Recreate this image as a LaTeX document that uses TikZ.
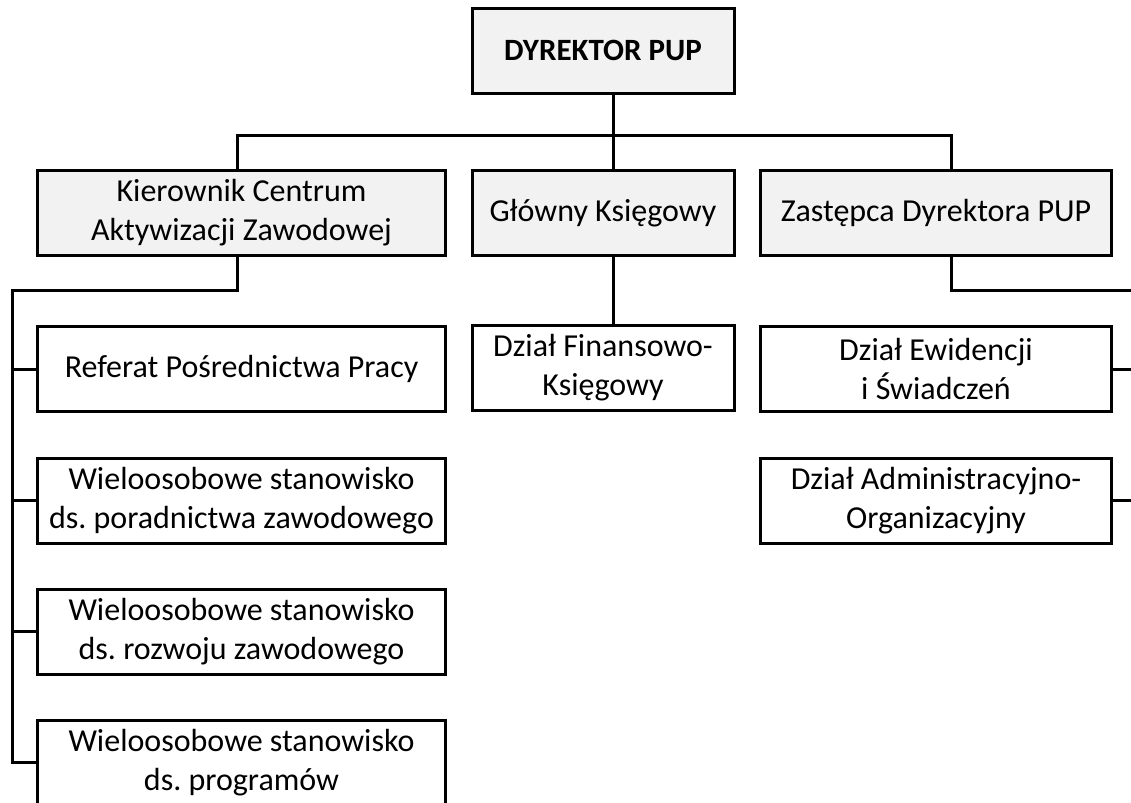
\documentclass[tikz,border=0pt]{standalone}
\usepackage{fontspec}
\setmainfont{Carlito}
\usepackage{tikz}
\usetikzlibrary{positioning,calc}
\frenchspacing

\tikzset{
  unit/.style={draw,line width=1.5pt,inner sep=0pt,align=center,
    minimum height=42.5pt,font=\fontsize{16}{19.5}\selectfont},
  head/.style={unit,fill=black!5},
  link/.style={line width=1.5pt}
}

\begin{document}
\begin{tikzpicture}[x=0.5pt,y=-0.5pt]
  \clip (0,0) rectangle (1131,803);
  \useasboundingbox (0,0) rectangle (1131,803);

  \node[head,minimum width=131pt,font=\fontsize{15.5}{19.5}\selectfont\bfseries] (dyr) at (603,50.5) {DYREKTOR PUP};

  \node[head,minimum width=204pt] (kier) at (241.5,213) {Kierownik Centrum\\Aktywizacji Zawodowej};
  \node[head,minimum width=131pt] (glowny) at (603,213) {Główny Księgowy};
  \node[head,minimum width=175.5pt] (zast) at (936,213) {Zastępca Dyrektora PUP};

  \node[unit,minimum width=204pt] (referat) at (241.5,369) {Referat Pośrednictwa Pracy};
  \node[unit,minimum width=204pt] (poradn) at (241.5,500.5) {Wieloosobowe stanowisko\\ds. poradnictwa zawodowego};
  \node[unit,minimum width=204pt] (rozwoj) at (241.5,631.5) {Wieloosobowe stanowisko\\ds. rozwoju zawodowego};
  \node[unit,minimum width=204pt] (program) at (241.5,762.5) {Wieloosobowe stanowisko\\ds. programów};

  \node[unit,minimum width=131pt] (finans) at (603,368) {Dział Finansowo-\\Księgowy};

  \node[unit,minimum width=175.5pt] (ewid) at (936,369) {Dział Ewidencji\\i Świadczeń};
  \node[unit,minimum width=175.5pt] (admin) at (936,500.5) {Dział Administracyjno-\\Organizacyjny};

  \coordinate (bus) at (613,135);
  \coordinate (lspine) at (12,290);
  \coordinate (rspine) at (1150,290);

  % top level
  \draw[link] ([xshift=5pt]dyr.south) -- ([xshift=5pt]glowny.north);
  \draw[link] ([xshift=-2.25pt]kier.north) |- (bus) -| ([xshift=7.5pt]zast.north);
  \draw[link] ([xshift=5pt]glowny.south) -- ([xshift=5pt]finans.north);

  % left branch
  \draw[link] ([xshift=-2.25pt]kier.south) |- (lspine) |- (program.west);
  \foreach \n in {referat,poradn,rozwoj}
    \draw[link] (lspine |- \n.west) -- (\n.west);

  % right branch
  \draw[link] ([xshift=7.5pt]zast.south) |- (rspine) |- (admin.east);
  \draw[link] (rspine |- ewid.east) -- (ewid.east);
\end{tikzpicture}
\end{document}
